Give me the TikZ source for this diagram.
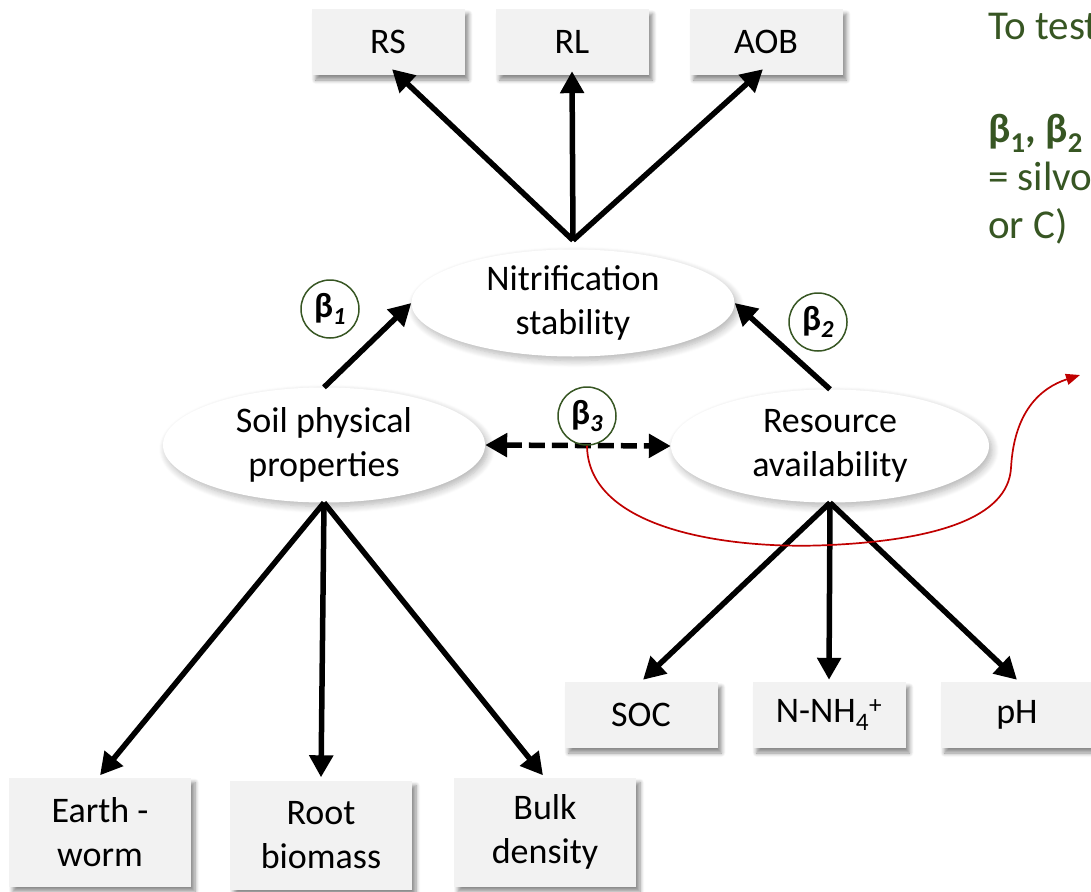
\documentclass[tikz,border=0pt]{standalone}
\usepackage{fontspec}
\setmainfont{Carlito}
\usetikzlibrary{arrows.meta,shapes.geometric,shadows.blur,calc}
\definecolor{boxgray}{HTML}{F2F2F2}
\definecolor{dgreen}{HTML}{375623}
\definecolor{dred}{HTML}{C00000}
\begin{document}
\begin{tikzpicture}[x=1pt,y=-1pt,
  txt/.style={font=\fontsize{36}{43.5}\selectfont},
  box/.style={txt, fill=boxgray, minimum width=153pt, minimum height=66pt, inner sep=0pt, align=center,
    blur shadow={shadow xshift=4pt, shadow yshift=-5pt, shadow blur steps=6, shadow blur radius=4pt, shadow opacity=45}},
  tallbox/.style={box, minimum width=182pt, minimum height=109pt},
  ell/.style={txt, ellipse, fill=white, inner sep=0pt, align=center,
    blur shadow={shadow xshift=3pt, shadow yshift=-4pt, shadow blur steps=8, shadow blur radius=7pt, shadow opacity=30}},
  beta/.style={circle, draw=dgreen, line width=1.5pt, minimum size=58pt, inner sep=0pt, font=\fontsize{35}{35}\selectfont\bfseries},
  arr/.style={line width=5.5pt, -{Triangle[length=22pt,width=23pt]}},
  darr/.style={line width=5.5pt, dash pattern=on 16pt off 7pt, {Triangle[length=22pt,width=23pt]}-{Triangle[length=22pt,width=23pt]}},
  gtxt/.style={anchor=base west, inner sep=0pt, text=dgreen, font=\fontsize{41}{49}\selectfont}
]
\useasboundingbox (0,0) rectangle (1091,891);
\clip (0,0) rectangle (1091,891);

% boxes
\node[box] (rs) at (388,42) {RS};
\node[box] (rl) at (572,42) {RL};
\node[box] (aob) at (766,42) {AOB};
\node[box] (soc) at (641,715) {SOC};
\node[box] (nnh) at (829,715) {N-NH\textsubscript{4}\textsuperscript{+}};
\node[box] (ph) at (1017,715) {pH};
\node[tallbox] (ew) at (100,832) {Earth -\\worm};
\node[tallbox] (rb) at (321,835) {Root\\biomass};
\node[tallbox] (bd) at (545,832) {Bulk\\density};

% ellipses
\node[ell, minimum width=323pt, minimum height=107pt] (nit) at (573,303) {Nitrification\\stability};
\node[ell, minimum width=322pt, minimum height=115pt] (soil) at (324,445) {Soil physical\\properties};
\node[ell, minimum width=318pt, minimum height=113pt] (res) at (830,446) {Resource\\availability};

% arrows
\coordinate (top) at ($(nit.north)+(0,-9)$);
\draw[arr] (top) -- ($(rs.south)+(4,-6)$);
\draw[arr] (top) -- ($(rl.south)+(0,-4)$);
\draw[arr] (top) -- ($(aob.south)+(-3,-6)$);
\draw[arr] (soil.north) -- (nit.west);
\draw[arr] (res.north) -- (nit.east);
\draw[darr] (soil.east) -- (res.west);
\draw[arr] (soil.south) -- ($(ew.north)+(0,-2)$);
\draw[arr] (soil.south) -- ($(rb.north)+(0,-3)$);
\draw[arr] (soil.south) -- ($(bd.north)+(-2,-2)$);
\draw[arr] (res.south) -- ($(soc.north)+(2,-2)$);
\draw[arr] (res.south) -- ($(nnh.north)+(0,-2)$);
\draw[arr] (res.south) -- ($(ph.north)+(0,-2)$);

% beta circles
\node[beta] (b1) at (330,309) {β\textsubscript{\itshape 1}};
\node[beta] (b2) at (818,322) {β\textsubscript{\itshape 2}};
\node[beta] (b3) at (587,416) {β\textsubscript{\itshape 3}};

% red curve
\coordinate (rend) at (1080,375);
\draw[dred, line width=1.7pt, -{Triangle[length=14pt,width=11pt]}]
  (b3.south) .. controls (588,530) and (730,550) .. (830,545)
  .. controls (935,540) and (1008,518) .. (1011,468)
  .. controls (1014,412) and (1040,388) .. (rend);

% green text
\node[gtxt] (t1) at (988,40) {To test};
\node[gtxt] (t2) at (988,142) {\bfseries β\textsubscript{1}, β\textsubscript{2}};
\node[gtxt] (t3) at (988,190) {= silvo};
\node[gtxt] (t4) at (988,238) {or C)};
\end{tikzpicture}
\end{document}
